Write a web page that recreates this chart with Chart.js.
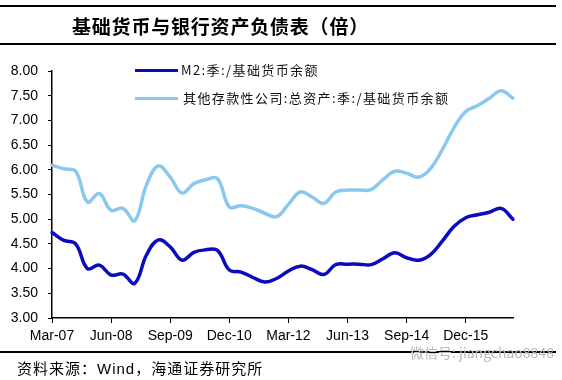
<!DOCTYPE html>
<html>
<head>
<meta charset="utf-8">
<script src="https://cdn.jsdelivr.net/npm/chart.js@4/dist/chart.umd.min.js"></script>
<style>
  html, body { margin: 0; padding: 0; background: #fff; }
  #wrap { position: relative; width: 562px; height: 380px; overflow: hidden; background: #fff; }
  #chartBox { position: absolute; left: 0; top: 0; width: 562px; height: 380px; }
  .rule { position: absolute; left: 0; width: 556px; background: #000; }
  .txt { position: absolute; white-space: nowrap; color: #000; }
  #title { left: 72px; top: 13px; font-family: "Noto Sans CJK SC", sans-serif; font-weight: 700; font-size: 19px; letter-spacing: 0.8px; line-height: 26px; }
  .leg { font-family: "Noto Sans CJK SC", "Liberation Sans", sans-serif; font-size: 13px; letter-spacing: 1.4px; line-height: 16px; color: #111; }
  .legLine { position: absolute; width: 43px; height: 3px; }
  #footer { left: 17px; top: 358px; font-family: "Noto Sans CJK SC", "Liberation Sans", sans-serif; font-size: 15px; letter-spacing: 1px; line-height: 20px; }
  #footer .lat { font-family: "Liberation Sans", Arial, sans-serif; }
  #wm { left: 410px; top: 343px; font-family: "Noto Sans CJK SC", "Liberation Sans", sans-serif; font-size: 14px; color: #b8b8b8; line-height: 18px; }
</style>
</head>
<body>
<div id="wrap">
  <div id="chartBox"><canvas id="c"></canvas></div>
  <div class="rule" style="top:5px;height:2px;"></div>
  <div class="rule" style="top:43px;height:2px;"></div>
  <div class="rule" style="top:351px;height:2px;"></div>
  <div id="title" class="txt">基础货币与银行资产负债表（倍）</div>
  <div id="leg1Line" class="legLine" style="left:135px;top:69px;"></div>
  <div id="leg1" class="txt leg" style="left:181px;top:62px;"></div>
  <div id="leg2Line" class="legLine" style="left:135px;top:97px;"></div>
  <div id="leg2" class="txt leg" style="left:183px;top:90px;"></div>
  <div id="footer" class="txt">资料来源：<span class="lat">Wind</span>，海通证券研究所</div>
  <div id="wm" class="txt">微信号: jiangchao8848</div>
</div>
<script>
// Quarterly categories
const quarters = [
  "Mar-07","Jun-07","Sep-07","Dec-07",
  "Mar-08","Jun-08","Sep-08","Dec-08",
  "Mar-09","Jun-09","Sep-09","Dec-09",
  "Mar-10","Jun-10","Sep-10","Dec-10",
  "Mar-11","Jun-11","Sep-11","Dec-11",
  "Mar-12","Jun-12","Sep-12","Dec-12",
  "Mar-13","Jun-13","Sep-13","Dec-13",
  "Mar-14","Jun-14","Sep-14","Dec-14",
  "Mar-15","Jun-15","Sep-15","Dec-15",
  "Mar-16","Jun-16","Sep-16","Dec-16"
];

// M2 / base money
const m2Ratio = [
  4.73, 4.57, 4.50, 4.00, 4.07, 3.87, 3.89, 3.70, 4.28, 4.58,
  4.44, 4.17, 4.33, 4.38, 4.37, 3.97, 3.93, 3.82, 3.73, 3.80,
  3.95, 4.05, 3.98, 3.88, 4.08, 4.09, 4.09, 4.08, 4.20, 4.32,
  4.22, 4.17, 4.28, 4.55, 4.85, 5.03, 5.09, 5.14, 5.22, 5.00
];

// Other depository corporations total assets / base money
const assetRatio = [
  6.09, 6.02, 5.97, 5.35, 5.52, 5.18, 5.22, 4.97, 5.70, 6.08,
  5.85, 5.53, 5.72, 5.80, 5.82, 5.25, 5.27, 5.22, 5.12, 5.05,
  5.30, 5.55, 5.45, 5.32, 5.55, 5.59, 5.59, 5.60, 5.80, 5.97,
  5.93, 5.85, 6.02, 6.40, 6.85, 7.18, 7.30, 7.45, 7.60, 7.45
];

const seriesNames = ["M2:季:/基础货币余额", "其他存款性公司:总资产:季:/基础货币余额"];
const seriesColors = ["#0a0ac0", "#8cc8ee"];
const yMin = 3, yMax = 8, yStep = 0.5;

document.getElementById("leg1").textContent = seriesNames[0];
document.getElementById("leg2").textContent = seriesNames[1];
document.getElementById("leg1Line").style.background = seriesColors[0];
document.getElementById("leg2Line").style.background = seriesColors[1];

Chart.defaults.font.family = '"Liberation Sans", Arial, sans-serif';
Chart.defaults.color = "#000";

new Chart(document.getElementById("c"), {
  type: "line",
  data: {
    labels: quarters,
    datasets: [
      { label: seriesNames[0], data: m2Ratio, borderColor: seriesColors[0], backgroundColor: seriesColors[0],
        borderWidth: 3.5, pointRadius: 0, tension: 0.4, fill: false, borderCapStyle: "round" },
      { label: seriesNames[1], data: assetRatio, borderColor: seriesColors[1], backgroundColor: seriesColors[1],
        borderWidth: 3.5, pointRadius: 0, tension: 0.4, fill: false, borderCapStyle: "round" }
    ]
  },
  options: {
    responsive: true,
    maintainAspectRatio: false,
    animation: false,
    layout: { padding: { left: 0, top: 71, right: 49, bottom: 32 } },
    plugins: { legend: { display: false }, tooltip: { enabled: false }, title: { display: false } },
    scales: {
      x: {
        type: "category",
        offset: false,
        afterFit: (s) => { s.height = 30; },
        grid: { display: true, drawOnChartArea: false, drawTicks: true, tickLength: 5, color: "#000", lineWidth: 1 },
        border: { display: true, color: "#000", width: 1.5 },
        ticks: {
          autoSkip: false, maxRotation: 0, minRotation: 0, padding: 5,
          font: { size: 14 },
          callback: function (val, idx) { return idx % 5 === 0 ? quarters[idx] : null; }
        }
      },
      y: {
        min: yMin, max: yMax,
        afterFit: (s) => { s.width = 52; },
        grid: { display: true, drawOnChartArea: false, drawTicks: true, tickLength: 4, color: "#000", lineWidth: 1 },
        border: { display: true, color: "#000", width: 1.5 },
        ticks: { stepSize: yStep, padding: 10, font: { size: 14 }, callback: (v) => Number(v).toFixed(2) }
      }
    }
  }
});
</script>
</body>
</html>
